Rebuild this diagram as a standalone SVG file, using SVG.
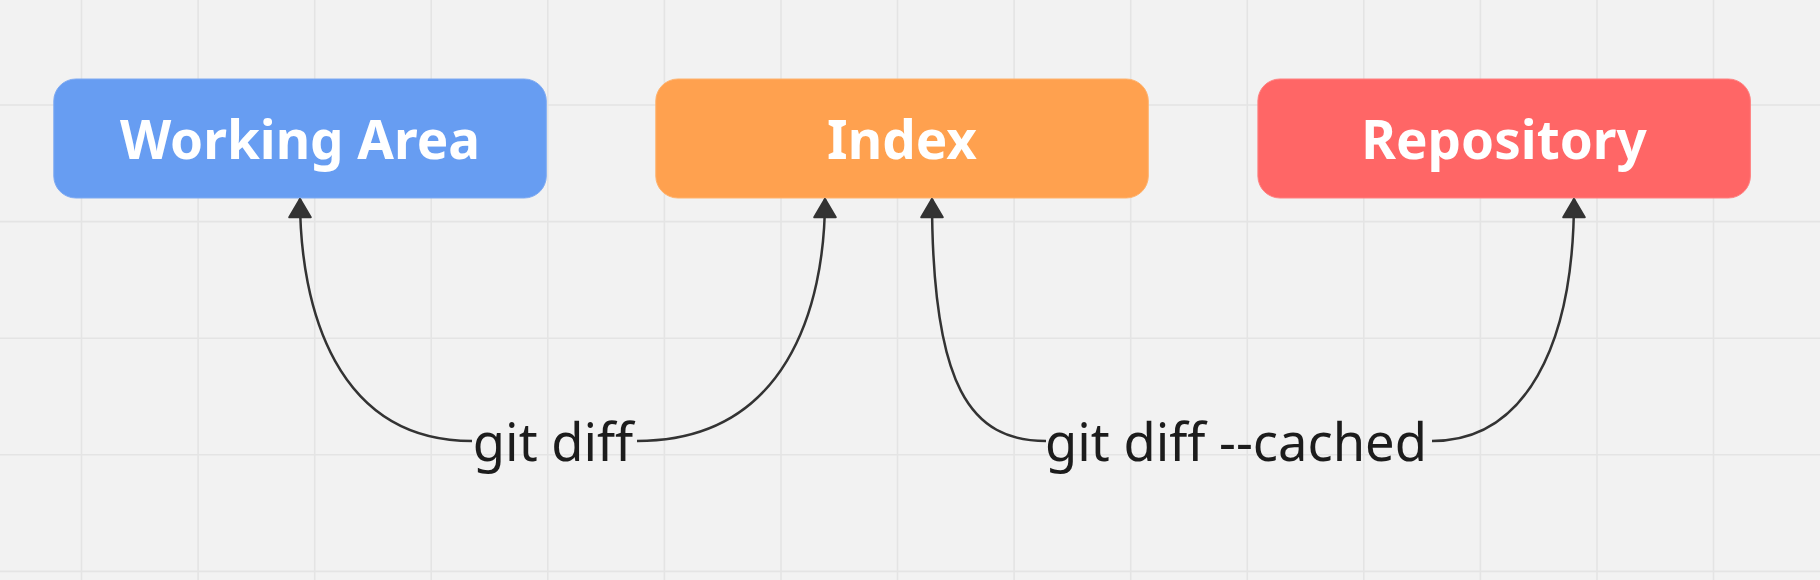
<svg xmlns="http://www.w3.org/2000/svg" width="1820" height="580" viewBox="0 0 1820 580">
<defs>
<style>
.grid{stroke:#e4e4e4;stroke-width:1.6;fill:none}
.box-text{font-family:"Noto Sans","Open Sans","DejaVu Sans",sans-serif;font-weight:700;font-size:53px;fill:#ffffff;text-anchor:middle}
.label{font-family:"Noto Sans","Open Sans","DejaVu Sans",sans-serif;font-size:52.5px;fill:#1c1c1c;text-anchor:middle}
.conn{fill:none;stroke:#333333;stroke-width:2.5}
</style>
<marker id="arrow" markerUnits="userSpaceOnUse" markerWidth="30" markerHeight="30" viewBox="-22 -14 26 28" refX="0" refY="0" orient="auto">
<path d="M0,0 L-17,-10 L-17,10 Z" fill="#333333" stroke="#333333" stroke-width="2" stroke-linejoin="round"/>
</marker>
</defs>
<rect x="0" y="0" width="1820" height="580" fill="#f2f2f2"/>
<g id="grid">
<path class="grid" d="M81.5 0V580M198.1 0V580M314.7 0V580M431.2 0V580M547.8 0V580M664.4 0V580M781 0V580M897.5 0V580M1014.1 0V580M1130.7 0V580M1247.3 0V580M1363.8 0V580M1480.4 0V580M1597 0V580M1713.5 0V580M0 105H1820M0 221.6H1820M0 338.2H1820M0 454.8H1820M0 571.4H1820"/>
</g>
<g id="working-area">
<rect x="53.8" y="79" width="492.5" height="119" rx="22" ry="22" fill="#679df2" stroke="#7eaaf2" stroke-width="1"/>
<text class="box-text" x="300" y="159">Working Area</text>
</g>
<g id="index">
<rect x="655.8" y="79" width="492.5" height="119" rx="22" ry="22" fill="#ffa14f" stroke="#ffb26c" stroke-width="1"/>
<text class="box-text" x="902" y="159">Index</text>
</g>
<g id="repository">
<rect x="1257.9" y="79" width="492.5" height="119" rx="22" ry="22" fill="#ff6666" stroke="#ff8080" stroke-width="1"/>
<text class="box-text" x="1504" y="159">Repository</text>
</g>
<g id="connectors">
<path class="conn" marker-end="url(#arrow)" d="M472 441 C336 441 300 308 300 199"/>
<path class="conn" marker-end="url(#arrow)" d="M637 441 C786 441 825 308 825 199"/>
<path class="conn" marker-end="url(#arrow)" d="M1046 441 C971 441 932 388 932 199"/>
<path class="conn" marker-end="url(#arrow)" d="M1432 441 C1524 441 1574 348 1574 199"/>
<text class="label" x="553" y="461">git diff</text>
<text class="label" x="1236" y="461">git diff --cached</text>
</g>
</svg>
